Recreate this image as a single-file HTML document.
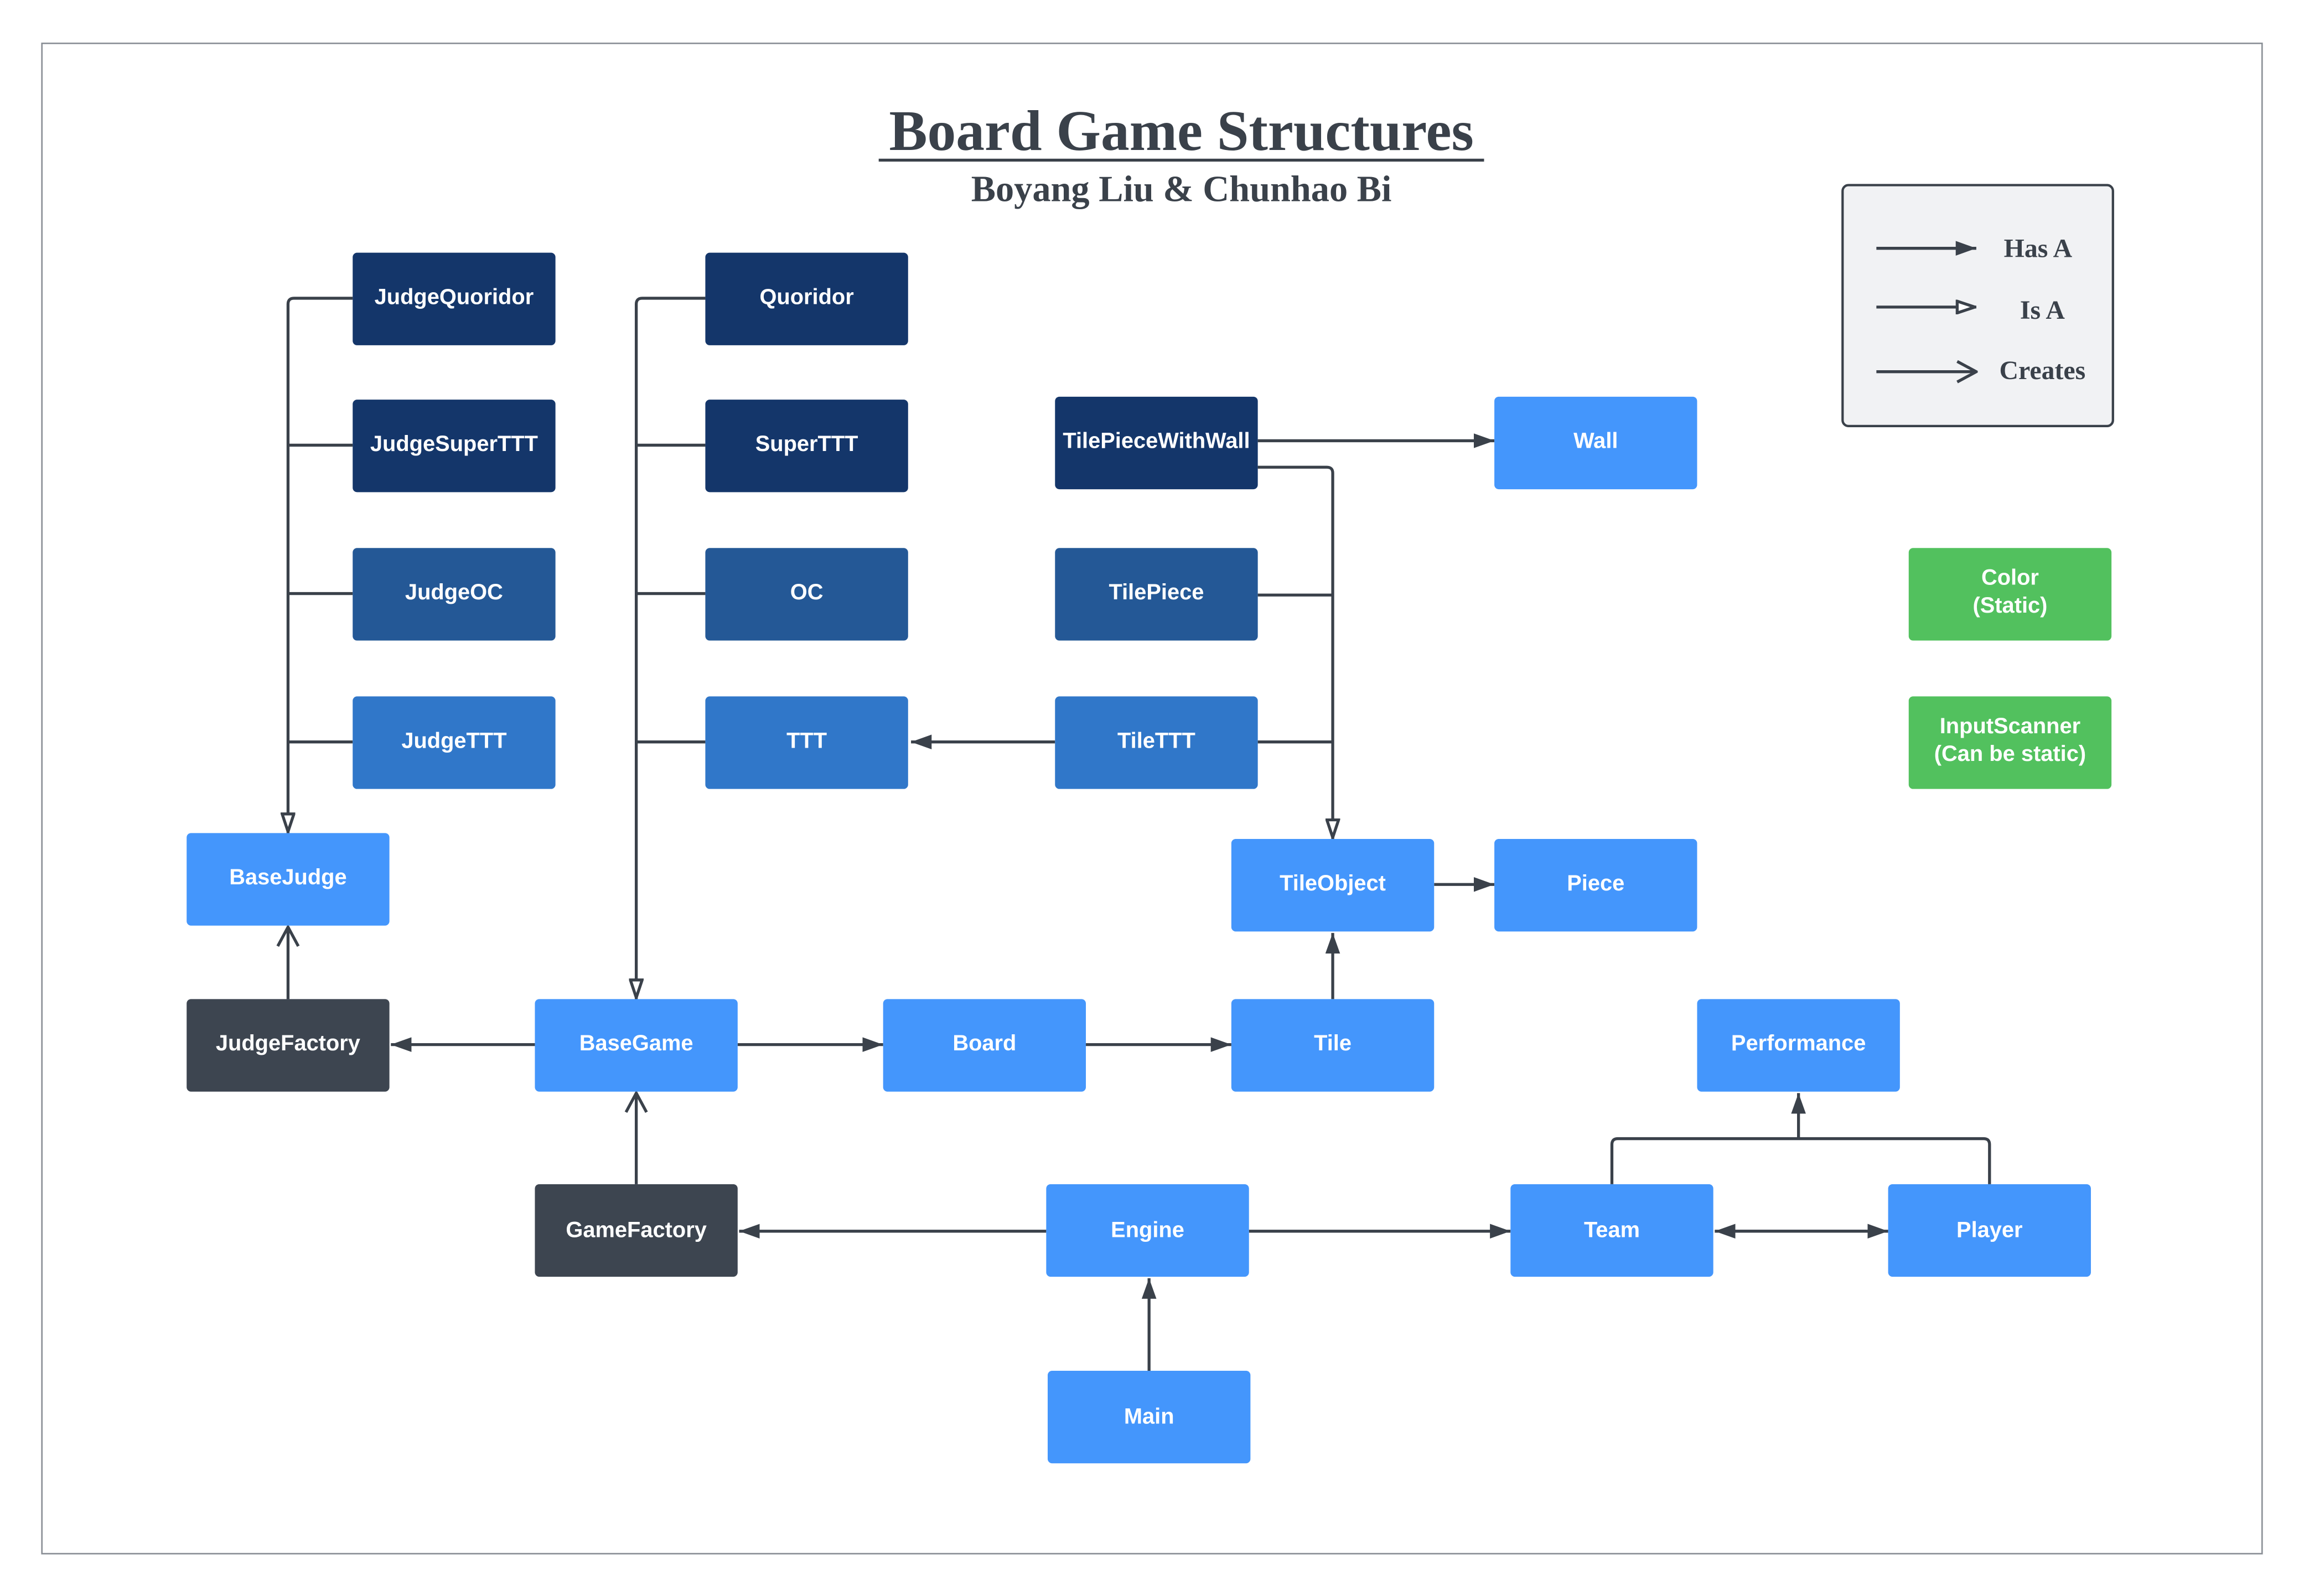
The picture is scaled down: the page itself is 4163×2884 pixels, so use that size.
<!DOCTYPE html>
<html><head><meta charset="utf-8"><style>
html,body{margin:0;padding:0;background:#fff;}
svg{display:block;}
.n text{font-family:"Liberation Sans",sans-serif;font-weight:bold;font-size:15px;fill:#fff;text-anchor:middle;}
.l{stroke:#3a414a;stroke-width:2;fill:none;}
</style></head><body>
<svg width="4163" height="2884" viewBox="0 0 1568 1086.3" xmlns="http://www.w3.org/2000/svg">
<defs>
<marker id="F" viewBox="0 0 14 10" refX="14" refY="5" markerWidth="14" markerHeight="10" markerUnits="userSpaceOnUse" orient="auto"><path d="M0,0L14,5L0,10z" fill="#3a414a"/></marker>
<marker id="H" viewBox="0 0 14 10" refX="14" refY="5" markerWidth="14" markerHeight="10" markerUnits="userSpaceOnUse" orient="auto"><path d="M1,1L13,5L1,9z" fill="#fff" stroke="#3a414a" stroke-width="2"/></marker>
<marker id="O" viewBox="0 0 16 16" refX="15" refY="8" markerWidth="16" markerHeight="16" markerUnits="userSpaceOnUse" orient="auto"><path d="M2,1L15,8L2,15" fill="none" stroke="#3a414a" stroke-width="2"/></marker>
</defs>
<rect x="0" y="0" width="1568" height="1087" fill="#fff"/>
<rect x="28.5" y="29.5" width="1511" height="1028" fill="none" stroke="#8a8f96" stroke-width="1"/>
<text x="804" y="102" font-family="Liberation Serif,serif" font-weight="bold" font-size="39" fill="#3a414a" text-anchor="middle">Board Game Structures</text>
<line x1="598" y1="109" x2="1010" y2="109" stroke="#3a414a" stroke-width="2"/>
<text x="804" y="137" font-family="Liberation Serif,serif" font-weight="bold" font-size="25" fill="#3a414a" text-anchor="middle">Boyang Liu &amp; Chunhao Bi</text>
<rect x="1254" y="126" width="184" height="164" rx="4" fill="#f1f2f4" stroke="#3a414a" stroke-width="1.6"/>
<g font-family="Liberation Serif,serif" font-weight="bold" font-size="18" fill="#3a414a" text-anchor="middle">
<text x="1387" y="175">Has A</text><text x="1390" y="217">Is A</text><text x="1390" y="258">Creates</text></g>
<line class="l" x1="1277" y1="169" x2="1345" y2="169" marker-end="url(#F)"/>
<line class="l" x1="1277" y1="209" x2="1345" y2="209" marker-end="url(#H)"/>
<line class="l" x1="1277" y1="253" x2="1345" y2="253" marker-end="url(#O)"/>

<path class="l" d="M240,203H200Q196,203 196,207V567" marker-end="url(#H)"/>
<path class="l" d="M240,303H196M240,404H196M240,505H196"/>
<path class="l" d="M480,203H437Q433,203 433,207V680" marker-end="url(#H)"/>
<path class="l" d="M480,303H433M480,404H433M480,505H433"/>
<line class="l" x1="856" y1="300" x2="1017" y2="300" marker-end="url(#F)"/>
<path class="l" d="M856,318H903Q907,318 907,322V571" marker-end="url(#H)"/>
<path class="l" d="M856,405H907M856,505H907"/>
<line class="l" x1="718" y1="505" x2="620" y2="505" marker-end="url(#F)"/>
<line class="l" x1="976" y1="602" x2="1017" y2="602" marker-end="url(#F)"/>
<line class="l" x1="907" y1="680" x2="907" y2="635" marker-end="url(#F)"/>
<line class="l" x1="196" y1="680" x2="196" y2="631" marker-end="url(#O)"/>
<line class="l" x1="364" y1="711" x2="266" y2="711" marker-end="url(#F)"/>
<line class="l" x1="502" y1="711" x2="601" y2="711" marker-end="url(#F)"/>
<line class="l" x1="739" y1="711" x2="838" y2="711" marker-end="url(#F)"/>
<line class="l" x1="433" y1="806" x2="433" y2="744" marker-end="url(#O)"/>
<line class="l" x1="712" y1="838" x2="503" y2="838" marker-end="url(#F)"/>
<line class="l" x1="850" y1="838" x2="1028" y2="838" marker-end="url(#F)"/>
<line class="l" x1="1180" y1="838" x2="1285" y2="838" marker-end="url(#F)"/>
<line class="l" x1="1270" y1="838" x2="1167" y2="838" marker-end="url(#F)"/>
<path class="l" d="M1097,806V779Q1097,775 1101,775H1350Q1354,775 1354,779V806"/>
<line class="l" x1="1224" y1="775" x2="1224" y2="744" marker-end="url(#F)"/>
<line class="l" x1="782" y1="933" x2="782" y2="870" marker-end="url(#F)"/>

<g class="n">
<rect x="240" y="172" width="138" height="63" rx="3" fill="#14366a"/><text x="309" y="207">JudgeQuoridor</text>
<rect x="240" y="272" width="138" height="63" rx="3" fill="#14366a"/><text x="309" y="307">JudgeSuperTTT</text>
<rect x="240" y="373" width="138" height="63" rx="3" fill="#245896"/><text x="309" y="408">JudgeOC</text>
<rect x="240" y="474" width="138" height="63" rx="3" fill="#3077c9"/><text x="309" y="509">JudgeTTT</text>
<rect x="480" y="172" width="138" height="63" rx="3" fill="#14366a"/><text x="549" y="207">Quoridor</text>
<rect x="480" y="272" width="138" height="63" rx="3" fill="#14366a"/><text x="549" y="307">SuperTTT</text>
<rect x="480" y="373" width="138" height="63" rx="3" fill="#245896"/><text x="549" y="408">OC</text>
<rect x="480" y="474" width="138" height="63" rx="3" fill="#3077c9"/><text x="549" y="509">TTT</text>
<rect x="718" y="270" width="138" height="63" rx="3" fill="#14366a"/><text x="787" y="305">TilePieceWithWall</text>
<rect x="718" y="373" width="138" height="63" rx="3" fill="#245896"/><text x="787" y="408">TilePiece</text>
<rect x="718" y="474" width="138" height="63" rx="3" fill="#3077c9"/><text x="787" y="509">TileTTT</text>
<rect x="1017" y="270" width="138" height="63" rx="3" fill="#4496fc"/><text x="1086" y="305">Wall</text>
<rect x="1299" y="373" width="138" height="63" rx="3" fill="#52c15e"/><text x="1368" y="398">Color</text><text x="1368" y="417">(Static)</text>
<rect x="1299" y="474" width="138" height="63" rx="3" fill="#52c15e"/><text x="1368" y="499">InputScanner</text><text x="1368" y="518">(Can be static)</text>
<rect x="127" y="567" width="138" height="63" rx="3" fill="#4496fc"/><text x="196" y="602">BaseJudge</text>
<rect x="838" y="571" width="138" height="63" rx="3" fill="#4496fc"/><text x="907" y="606">TileObject</text>
<rect x="1017" y="571" width="138" height="63" rx="3" fill="#4496fc"/><text x="1086" y="606">Piece</text>
<rect x="127" y="680" width="138" height="63" rx="3" fill="#3d4550"/><text x="196" y="715">JudgeFactory</text>
<rect x="364" y="680" width="138" height="63" rx="3" fill="#4496fc"/><text x="433" y="715">BaseGame</text>
<rect x="601" y="680" width="138" height="63" rx="3" fill="#4496fc"/><text x="670" y="715">Board</text>
<rect x="838" y="680" width="138" height="63" rx="3" fill="#4496fc"/><text x="907" y="715">Tile</text>
<rect x="1155" y="680" width="138" height="63" rx="3" fill="#4496fc"/><text x="1224" y="715">Performance</text>
<rect x="364" y="806" width="138" height="63" rx="3" fill="#3d4550"/><text x="433" y="842">GameFactory</text>
<rect x="712" y="806" width="138" height="63" rx="3" fill="#4496fc"/><text x="781" y="842">Engine</text>
<rect x="1028" y="806" width="138" height="63" rx="3" fill="#4496fc"/><text x="1097" y="842">Team</text>
<rect x="1285" y="806" width="138" height="63" rx="3" fill="#4496fc"/><text x="1354" y="842">Player</text>
<rect x="713" y="933" width="138" height="63" rx="3" fill="#4496fc"/><text x="782" y="969">Main</text>
</g>
</svg>
</body></html>
